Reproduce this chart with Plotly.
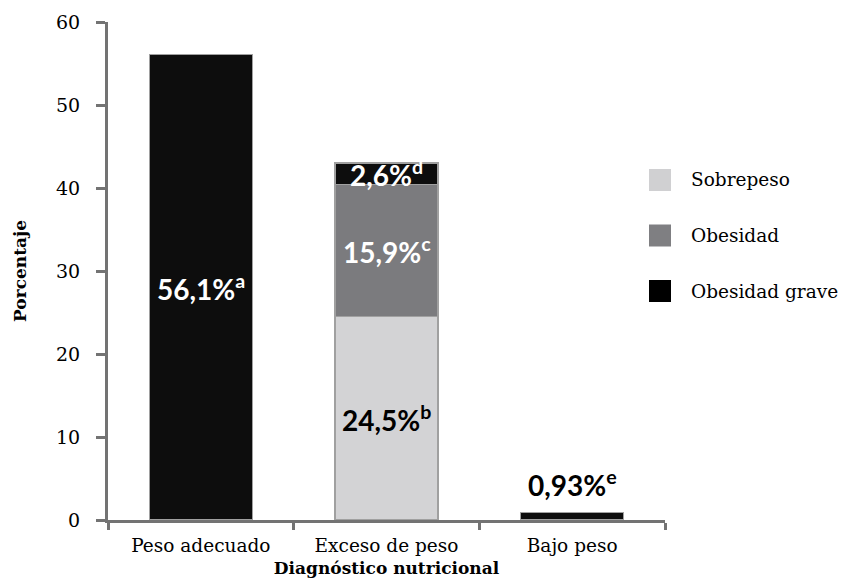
import plotly.graph_objects as go

categories = ["Peso adecuado", "Exceso de peso", "Bajo peso"]
sobrepeso = [0, 24.5, 0]
obesidad = [0, 15.9, 0]
obesidad_grave = [56.1, 2.6, 0.93]
series_names = ["Sobrepeso", "Obesidad", "Obesidad grave"]
series_colors = ["#d3d3d5", "#7b7b7e", "#0d0d0d"]
legend_colors = ["#d0d0d2", "#7f7f82", "#000000"]
labels = [
    [None, "24,5%<sup>b</sup>", None],
    [None, "15,9%<sup>c</sup>", None],
    ["56,1%<sup>a</sup>", "2,6%<sup>d</sup>", "0,93%<sup>e</sup>"],
]
label_colors = [["black"] * 3, ["white"] * 3, ["white", "white", "black"]]
y_ticks = [0, 10, 20, 30, 40, 50, 60]

SERIF = "DejaVu Serif"
SANS = "Lato"

fig = go.Figure()
series = [sobrepeso, obesidad, obesidad_grave]
for name, vals, col in zip(series_names, series, series_colors):
    fig.add_trace(go.Bar(
        x=categories, y=vals, name=name,
        marker=dict(color=col, line=dict(color="#a0a0a0", width=1.5)),
        showlegend=False,
    ))

# labels placed at middle of each segment (from data)
base = [0.0] * len(categories)
annotations = []
for si, vals in enumerate(series):
    for ci, v in enumerate(vals):
        if v and labels[si][ci]:
            txt = "<b>" + labels[si][ci] + "</b>"
            fnt = dict(family=SANS, size=28, color=label_colors[si][ci])
            if v < 2:
                annotations.append(dict(
                    x=categories[ci], y=base[ci] + v, text=txt,
                    showarrow=False, yanchor="bottom", yshift=8, font=fnt))
            else:
                annotations.append(dict(
                    x=categories[ci], y=base[ci] + v / 2, text=txt,
                    showarrow=False, yanchor="middle", font=fnt))
        base[ci] += v

# manual legend
leg_x0, leg_y_top, sq, gap = 649, 169, 22, 55.5
W, H = 841, 579
shapes = []
for i, (name, col) in enumerate(zip(series_names, legend_colors)):
    y0 = leg_y_top + i * gap
    shapes.append(dict(type="rect", xref="paper", yref="paper",
                       x0=(leg_x0 - 108) / 557, x1=(leg_x0 + sq - 108) / 557,
                       y0=(520 - y0) / 498, y1=(520 - y0 - sq) / 498,
                       fillcolor=col, line=dict(width=0)))
    annotations.append(dict(xref="paper", yref="paper",
                            x=(689 - 108) / 557, y=(520 - y0 - sq / 2) / 498,
                            xanchor="left", yanchor="middle", showarrow=False,
                            text=name, font=dict(family=SERIF, size=18.5, color="black")))

fig.update_layout(
    barmode="stack",
    bargap=0.445,
    width=W, height=H,
    margin=dict(l=108, r=176, t=22, b=59),
    paper_bgcolor="white", plot_bgcolor="white",
    font=dict(family=SERIF, size=17, color="black"),
    annotations=annotations,
    shapes=shapes,
    xaxis=dict(
        automargin=False,
        showline=True, linecolor="#737373", linewidth=3,
        ticks="outside", tickson="boundaries", ticklen=7, tickwidth=3, tickcolor="#737373",
        tickfont=dict(family=SERIF, size=18.5, color="black"),
        ticklabelstandoff=7,
        title=dict(text="<b>Diagnóstico nutricional</b>", standoff=7,
                   font=dict(family=SERIF, size=17, color="black")),
        showgrid=False,
    ),
    yaxis=dict(
        automargin=False,
        range=[0, 60], tickvals=y_ticks,
        showline=True, linecolor="#737373", linewidth=3,
        ticks="outside", ticklen=9, tickwidth=3, tickcolor="#737373",
        tickfont=dict(family=SERIF, size=19, color="black"),
        ticklabelstandoff=12,
        title=dict(text="<b>Porcentaje</b>", standoff=26,
                   font=dict(family=SERIF, size=17, color="black")),
        showgrid=False, zeroline=False,
    ),
)

fig.write_html("out.html")
